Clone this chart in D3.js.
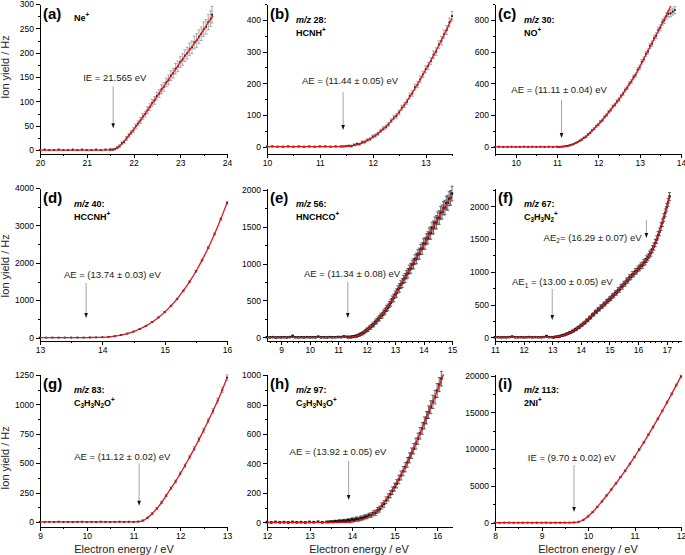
<!DOCTYPE html>
<html>
<head>
<meta charset="utf-8">
<script src="https://cdn.jsdelivr.net/npm/d3@7"></script>
<style>
body { margin: 0; background: #fff; }
svg { font-family: "Liberation Sans", Arial, sans-serif; }
</style>
</head>
<body>
<svg id="chart" width="685" height="555"></svg>
<script>
// measured points: [energy eV, ion yield Hz, error]
var dataA = [[20.0,0,1],[20.1,1,1],[20.2,0,1],[20.3,0,1],[20.4,1,1],[20.5,0,1],[20.6,0,1],[20.7,1,1],[20.8,0,1],[20.9,1,1],[21.0,0,1],[21.1,0,1],[21.2,1,1],[21.3,0,1],[21.4,1,1],[21.5,1,2],[21.55,1,2],
  [21.60,2,2],[21.65,5,2],[21.70,8,3],[21.75,14,3],[21.80,17,3],[21.85,24,4],[21.90,30,4],[21.95,36,4],[22.00,41,5],[22.05,49,5],[22.10,55,5],[22.15,61,6],[22.20,69,6],[22.25,74,6],[22.30,82,7],[22.35,88,7],[22.40,97,7],[22.45,102,8],[22.50,111,8],[22.55,116,8],[22.60,125,9],[22.65,130,9],[22.70,139,9],[22.75,144,10],[22.80,153,10],[22.85,158,10],[22.90,167,11],[22.95,172,11],[23.00,181,11],[23.05,186,12],[23.10,194,12],[23.15,199,12],[23.20,207,13],[23.25,211,13],[23.30,221,13],[23.35,225,14],[23.40,233,14],[23.45,239,14],[23.50,248,15],[23.55,253,15],[23.60,263,16],[23.65,270,16],[23.68,278,17]];
var fitA = [[20,0],[21,0],[21.5,0.5],[21.565,1],[21.6,2],[21.7,8],[21.8,18],[21.9,30],[22.0,42],[22.2,68],[22.4,96],[22.6,124],[22.8,152],[23.0,180],[23.2,206],[23.4,232],[23.6,262],[23.7,276]];

var dataB = [[10.0,0,2],[10.1,1,2],[10.2,0,2],[10.3,0,2],[10.4,1,2],[10.5,0,2],[10.6,1,2],[10.7,0,2],[10.8,1,2],[10.9,0,2],[11.0,1,2],[11.1,1,2],[11.2,0,2],[11.3,1,2],[11.4,1,2],
  [11.45,1,2],[11.50,2,2],[11.55,3,2],[11.60,2,3],[11.65,6,3],[11.70,9,3],[11.75,8,3],[11.80,14,4],[11.85,15,4],[11.90,21,4],[11.95,24,4],[12.00,32,5],[12.05,35,5],[12.10,41,5],[12.15,50,5],[12.20,57,6],[12.25,62,6],[12.30,70,6],[12.35,82,6],[12.40,92,7],[12.45,97,7],[12.50,108,7],[12.55,123,8],[12.60,131,8],[12.65,142,8],[12.70,160,9],[12.75,168,9],[12.80,188,9],[12.85,196,10],[12.90,213,10],[12.95,228,10],[13.00,244,11],[13.05,255,11],[13.10,270,11],[13.15,290,12],[13.20,300,12],[13.25,322,12],[13.30,334,13],[13.35,355,13],[13.40,368,14],[13.45,392,14],[13.50,412,15]];
var fitB = [[10,0],[11,0],[11.44,0.5],[11.5,1],[11.6,3],[11.7,6],[11.8,12],[11.9,20],[12.0,30],[12.1,42],[12.2,56],[12.3,72],[12.4,90],[12.5,110],[12.6,132],[12.7,157],[12.8,184],[12.9,212],[13.0,242],[13.1,272],[13.2,303],[13.3,336],[13.4,370],[13.5,405]];

var dataC = [[9.5,0,2],[9.6,1,2],[9.7,0,2],[9.8,0,2],[9.9,1,2],[10.0,0,2],[10.1,0,2],[10.2,1,2],[10.3,0,2],[10.4,1,2],[10.5,0,2],[10.6,1,2],[10.7,0,2],[10.8,1,2],[10.9,0,2],[11.0,1,2],[11.05,0,2],
  [11.10,1,2],[11.15,2,2],[11.20,4,2],[11.25,6,3],[11.30,9,3],[11.35,13,3],[11.40,18,3],[11.45,25,4],[11.50,30,4],[11.55,39,4],[11.60,46,5],[11.65,57,5],[11.70,64,5],[11.75,78,6],[11.80,88,6],[11.85,104,6],[11.90,114,7],[11.95,130,7],[12.00,140,7],[12.05,158,8],[12.10,168,8],[12.15,188,8],[12.20,200,9],[12.25,220,9],[12.30,233,9],[12.35,254,10],[12.40,265,10],[12.45,286,10],[12.50,298,11],[12.55,321,11],[12.60,335,11],[12.65,359,12],[12.70,372,12],[12.75,398,12],[12.80,412,13],[12.85,439,13],[12.90,452,13],[12.95,484,14],[13.00,501,14],[13.05,535,14],[13.10,551,15],[13.15,585,15],[13.20,600,16],[13.25,636,16],[13.30,650,17],[13.35,686,17],[13.40,700,18],[13.45,736,18],[13.50,750,19],[13.55,786,19],[13.60,798,20],[13.65,825,20],[13.70,838,21],[13.75,842,22],[13.80,852,22],[13.85,862,23]];
var fitC = [[9.5,0],[10.8,0],[11.11,1],[11.3,8],[11.5,30],[11.7,65],[11.9,115],[12.1,170],[12.3,235],[12.5,300],[12.7,375],[12.9,455],[13.1,555],[13.3,655],[13.5,755],[13.7,860],[13.75,888]];

var dataD = [[13.0,2,5],[13.1,1,5],[13.2,2,5],[13.3,1,5],[13.4,2,5],[13.5,2,5],[13.6,3,5],[13.7,2,5],[13.8,4,5],[13.9,5,5],[14.0,10,6],[14.1,20,6],[14.2,40,7],[14.3,68,8],[14.4,108,9],[14.5,162,10],[14.6,230,11],[14.7,315,12],[14.8,418,13],[14.9,540,14],[15.0,683,15],[15.1,850,16],[15.2,1036,18],[15.3,1256,20],[15.4,1495,22],[15.5,1770,24],[15.6,2070,26],[15.7,2405,28],[15.8,2770,30],[15.9,3170,32],[16.0,3600,35]];
var fitD = [[13,0],[13.6,1],[13.74,2],[13.8,3],[13.9,5],[14.0,9],[14.1,19],[14.2,39],[14.3,68],[14.4,108],[14.5,161],[14.6,230],[14.7,314],[14.8,417],[14.9,539],[15.0,682],[15.1,848],[15.2,1037],[15.3,1254],[15.4,1496],[15.5,1768],[15.6,2071],[15.7,2403],[15.8,2770],[15.9,3170],[16.0,3604]];

var dataE = [[8.5,2,8],[8.6,0,8],[8.7,3,8],[8.8,-2,8],[8.9,1,8],[9.0,0,8],[9.1,2,8],[9.2,-1,8],[9.3,3,8],[9.4,18,10],[9.5,1,8],[9.6,0,8],[9.7,2,8],[9.8,-1,8],[9.9,3,8],[10.0,0,8],[10.1,2,8],[10.2,1,8],[10.3,8,9],[10.4,0,8],[10.5,2,8],[10.6,-1,8],[10.7,3,8],[10.8,1,8],[10.9,2,8],[11.0,4,9],[11.1,3,9],[11.2,12,10],[11.3,6,10],
  [11.35,2,10],[11.40,5,10],[11.45,3,12],[11.50,8,12],[11.55,10,14],[11.60,15,14],[11.65,18,16],[11.70,26,16],[11.75,33,18],[11.80,45,18],[11.85,52,20],[11.90,66,20],[11.95,80,22],[12.00,98,25],[12.05,108,28],[12.10,130,25],[12.15,140,30],[12.20,165,28],[12.25,175,32],[12.30,205,30],[12.35,218,35],[12.40,245,32],[12.45,262,38],[12.50,290,35],[12.55,300,40],[12.60,335,38],[12.65,355,42],[12.70,390,40],[12.75,405,45],[12.80,445,42],[12.85,470,48],[12.90,515,45],[12.95,535,50],[13.00,580,48],[13.05,600,55],[13.10,650,50],[13.15,670,58],[13.20,715,52],[13.25,735,60],[13.30,785,55],[13.35,805,62],[13.40,850,58],[13.45,870,65],[13.50,920,60],[13.55,935,68],[13.60,985,62],[13.65,1000,70],[13.70,1055,65],[13.75,1070,72],[13.80,1120,68],[13.85,1135,75],[13.90,1190,70],[13.95,1205,78],[14.00,1265,72],[14.05,1275,80],[14.10,1330,75],[14.15,1350,82],[14.20,1405,78],[14.25,1415,85],[14.30,1480,80],[14.35,1490,88],[14.40,1550,82],[14.45,1560,90],[14.50,1615,85],[14.55,1625,92],[14.60,1685,88],[14.65,1700,95],[14.70,1750,90],[14.75,1760,98],[14.80,1820,92],[14.85,1825,100],[14.90,1880,95],[14.95,1890,100],[15.00,1950,100]];
var fitE = [[8.5,0],[11.0,0],[11.34,2],[11.6,12],[11.8,40],[12.0,95],[12.2,160],[12.4,240],[12.6,335],[12.8,450],[13.0,575],[13.2,710],[13.4,845],[13.6,975],[13.8,1110],[14.0,1250],[14.2,1395],[14.4,1535],[14.6,1670],[14.8,1800],[15.0,1925]];

var dataF = [[11.0,0,8],[11.1,2,8],[11.2,-1,8],[11.3,1,8],[11.4,0,8],[11.5,3,8],[11.6,10,9],[11.7,1,8],[11.8,0,8],[11.9,2,8],[12.0,-1,8],[12.1,1,8],[12.2,3,8],[12.3,0,8],[12.4,2,8],[12.5,1,8],[12.6,0,8],[12.7,3,8],[12.8,18,10],[12.9,2,8],
  [13.00,2,8],[13.05,0,8],[13.10,6,9],[13.15,5,9],[13.20,12,10],[13.25,10,10],[13.30,22,11],[13.35,24,11],[13.40,35,12],[13.45,36,12],[13.50,50,15],[13.55,55,15],[13.60,68,16],[13.65,75,16],[13.70,92,17],[13.75,98,18],[13.80,118,18],[13.85,125,19],[13.90,148,20],[13.95,155,20],[14.00,180,21],[14.05,190,22],[14.10,215,22],[14.15,225,23],[14.20,255,24],[14.25,265,24],[14.30,295,25],[14.35,305,25],[14.40,340,25],[14.45,350,26],[14.50,385,27],[14.55,392,28],[14.60,425,28],[14.65,430,29],[14.70,465,30],[14.75,470,30],[14.80,505,31],[14.85,510,32],[14.90,545,32],[14.95,555,33],[15.00,585,34],[15.05,595,34],[15.10,630,35],[15.15,640,35],[15.20,675,36],[15.25,680,36],[15.30,720,37],[15.35,725,37],[15.40,770,38],[15.45,775,38],[15.50,815,39],[15.55,820,39],[15.60,865,40],[15.65,870,40],[15.70,915,41],[15.75,920,41],[15.80,960,42],[15.85,965,42],[15.90,1005,43],[15.95,1010,43],[16.00,1045,44],[16.05,1060,45],[16.10,1090,46],[16.15,1100,47],[16.20,1140,48],[16.25,1155,49],[16.30,1195,50],[16.35,1220,51],[16.40,1265,52],[16.45,1290,53],[16.50,1345,54],[16.55,1385,55],[16.60,1440,56],[16.65,1490,57],[16.70,1560,58],[16.75,1610,58],[16.80,1690,59],[16.85,1750,59],[16.90,1830,60],[16.95,1900,60],[17.00,1985,60],[17.05,2060,60],[17.10,2150,60]];
var fitF = [[11,0],[12.8,0],[13.0,1],[13.25,12],[13.5,45],[13.75,100],[14.0,175],[14.25,270],[14.5,380],[14.75,480],[15.0,580],[15.25,690],[15.5,810],[15.75,930],[16.0,1040],[16.25,1160],[16.5,1340],[16.75,1620],[17.0,1990],[17.1,2150]];

var dataG = [[9.0,1,3],[9.1,0,3],[9.2,1,3],[9.3,0,3],[9.4,2,3],[9.5,0,3],[9.6,1,3],[9.7,0,3],[9.8,1,3],[9.9,2,3],[10.0,0,3],[10.1,1,3],[10.2,0,3],[10.3,2,3],[10.4,1,3],[10.5,0,3],[10.6,1,3],[10.7,2,3],[10.8,1,3],[10.9,2,3],[11.0,1,3],
  [11.1,3,4],[11.2,12,5],[11.3,36,6],[11.4,71,7],[11.5,114,8],[11.6,166,9],[11.7,224,10],[11.8,287,11],[11.9,344,12],[12.0,412,13],[12.1,478,14],[12.2,552,15],[12.3,623,16],[12.4,702,17],[12.5,778,18],[12.6,862,19],[12.7,943,20],[12.8,1032,21],[12.9,1123,22],[13.0,1228,23]];
var fitG = [[9,0],[10.9,0],[11.0,1],[11.1,3],[11.2,10],[11.3,35],[11.4,70],[11.5,115],[11.6,165],[11.7,225],[11.8,285],[11.9,345],[12.0,410],[12.1,480],[12.2,550],[12.3,625],[12.4,700],[12.5,780],[12.6,860],[12.7,945],[12.8,1030],[12.9,1125],[13.0,1225]];

var dataH = [[12.0,2,5],[12.1,0,5],[12.2,3,5],[12.3,1,5],[12.4,2,5],[12.5,0,5],[12.6,3,5],[12.7,1,5],[12.8,2,5],[12.9,0,5],[13.0,3,5],[13.1,2,5],[13.2,4,5],[13.3,1,5],[13.4,3,5],
  [13.45,3,6],[13.50,5,6],[13.55,4,7],[13.60,8,7],[13.65,6,8],[13.70,10,8],[13.75,8,9],[13.80,12,9],[13.85,10,10],[13.90,15,10],[13.95,14,11],[14.00,20,11],[14.05,18,12],[14.10,25,12],[14.15,22,13],[14.20,30,13],[14.25,30,14],[14.30,38,14],[14.35,40,15],[14.40,48,15],[14.45,50,16],[14.50,62,17],[14.55,66,18],[14.60,82,19],[14.65,90,20],[14.70,112,21],[14.75,125,22],[14.80,150,23],[14.85,170,24],[14.90,192,25],[14.95,215,26],[15.00,240,27],[15.05,262,28],[15.10,292,29],[15.15,318,30],[15.20,348,31],[15.25,375,32],[15.30,408,33],[15.35,438,34],[15.40,470,35],[15.45,500,36],[15.50,535,37],[15.55,568,38],[15.60,605,39],[15.65,638,40],[15.70,675,41],[15.75,710,42],[15.80,748,43],[15.85,782,44],[15.90,818,45],[15.95,850,46],[16.00,895,47],[16.05,935,48],[16.10,975,50]];
var fitH = [[12,0],[13.7,0],[13.92,1],[14.0,3],[14.2,15],[14.4,40],[14.6,85],[14.8,155],[15.0,245],[15.2,350],[15.4,470],[15.6,605],[15.8,750],[16.0,890],[16.15,1005]];

var dataI = [[8.0,5,40],[8.1,-8,40],[8.2,3,40],[8.3,10,40],[8.4,-4,40],[8.5,6,40],[8.6,0,40],[8.7,8,40],[8.8,-5,40],[8.9,4,40],[9.0,2,40],[9.1,9,40],[9.2,-3,40],[9.3,5,40],[9.4,1,40],[9.5,7,40],[9.6,10,40],[9.7,40,45],[9.8,130,50],[9.9,390,55],[10.0,860,60],[10.1,1440,65],[10.2,2160,70],[10.3,2890,75],[10.4,3710,80],[10.5,4510,85],[10.6,5340,90],[10.7,6210,95],[10.8,7080,100],[10.9,8010,105],[11.0,8940,110],[11.1,9950,115],[11.2,10930,120],[11.3,11980,125],[11.4,13020,130],[11.5,14130,135],[11.6,15220,140],[11.7,16380,145],[11.8,17520,150],[11.9,18720,155],[12.0,19900,160]];
var fitI = [[8,0],[9.5,0],[9.6,2],[9.7,20],[9.8,120],[9.9,400],[10.0,850],[10.1,1450],[10.2,2150],[10.3,2900],[10.4,3700],[10.5,4500],[10.6,5350],[10.7,6200],[10.8,7090],[10.9,8000],[11.0,8950],[11.1,9940],[11.2,10940],[11.3,11970],[11.4,13030],[11.5,14120],[11.6,15230],[11.7,16370],[11.8,17530],[11.9,18710],[12.0,19910]];

// tick labels
var ticksXA = [20,21,22,23,24],            ticksYA = [0,50,100,150,200,250,300];
var ticksXB = [10,11,12,13],               ticksYB = [0,100,200,300,400];
var ticksXC = [10,11,12,13,14],            ticksYC = [0,200,400,600,800];
var ticksXD = [13,14,15,16],               ticksYD = [0,1000,2000,3000,4000];
var ticksXE = [9,10,11,12,13,14,15],       ticksYE = [0,500,1000,1500,2000];
var ticksXF = [11,12,13,14,15,16,17],      ticksYF = [0,500,1000,1500,2000];
var ticksXG = [9,10,11,12,13],             ticksYG = [0,250,500,750,1000,1250];
var ticksXH = [12,13,14,15,16],            ticksYH = [0,200,400,600,800,1000];
var ticksXI = [8,9,10,11,12],              ticksYI = [0,5000,10000,15000,20000];

// grid of plot areas (pixels)
var colX = [[40, 227], [267, 452], [495, 681]];
var rowY = [[154, 4], [341, 188], [527, 374]];

var panels = [
  {tag:"(a)", col:0, row:0, data:dataA, fit:fitA, xd:[20,24], yd:[-8,300], xt:ticksXA, yt:ticksYA, xm:0.5, ym:25,
   species:["Ne^+"], notes:[{t:"IE = 21.565 eV", tx:21.6, ty:142, ax:21.565, a0:131, a1:45}]},
  {tag:"(b)", col:1, row:0, data:dataB, fit:fitB, xd:[10,13.5], yd:[-23,450], xt:ticksXB, yt:ticksYB, xm:0.5, ym:50,
   species:["*m/z* 28:", "HCNH^+"], notes:[{t:"AE = (11.44 ± 0.05) eV", tx:11.57, ty:198, ax:11.44, a0:172, a1:53}]},
  {tag:"(c)", col:2, row:0, data:dataC, fit:fitC, xd:[9.5,14], yd:[-45,900], xt:ticksXC, yt:ticksYC, xm:0.5, ym:100,
   species:["*m/z* 30:", "NO^+"], notes:[{t:"AE = (11.11 ± 0.04) eV", tx:11.05, ty:339, ax:11.11, a0:295, a1:56}]},
  {tag:"(d)", col:0, row:1, data:dataD, fit:fitD, xd:[13,16], yd:[-90,4000], xt:ticksXD, yt:ticksYD, xm:0.5, ym:500,
   species:["*m/z* 40:", "HCCNH^+"], notes:[{t:"AE = (13.74 ± 0.03) eV", tx:14.16, ty:1594, ax:13.74, a0:1460, a1:525}]},
  {tag:"(e)", col:1, row:1, data:dataE, fit:fitE, xd:[8.5,15], yd:[-50,2025], xt:ticksXE, yt:ticksYE, xm:0.2, ym:250, dense:true,
   species:["*m/z* 56:", "HNCHCO^+"], notes:[{t:"AE = (11.34 ± 0.08) eV", tx:11.49, ty:818, ax:11.34, a0:750, a1:262}]},
  {tag:"(f)", col:2, row:1, data:dataF, fit:fitF, xd:[11,17.5], yd:[-57,2280], xt:ticksXF, yt:ticksYF, xm:0.2, ym:250, dense:true,
   species:["*m/z* 67:", "C_3H_3N_2^+"], notes:[
     {t:"AE_1 = (13.00 ± 0.05) eV", tx:13.35, ty:798, ax:13.00, a0:737, a1:264},
     {t:"AE_2= (16.29 ± 0.07) eV", tx:16.12, ty:1477, ax:16.29, a0:1791, a1:1516, anchor:"end"}]},
  {tag:"(g)", col:0, row:2, data:dataG, fit:fitG, xd:[9,13], yd:[-43,1258], xt:ticksXG, yt:ticksYG, xm:0.5, ym:125,
   species:["*m/z* 83:", "C_3H_3N_2O^+"], notes:[{t:"AE = (11.12 ± 0.02) eV", tx:10.76, ty:530, ax:11.12, a0:496, a1:137}]},
  {tag:"(h)", col:1, row:2, data:dataH, fit:fitH, xd:[12,16.35], yd:[-31,1007], xt:ticksXH, yt:ticksYH, xm:0.5, ym:100, dense:true,
   species:["*m/z* 97:", "C_3H_3N_3O^+"], notes:[{t:"AE = (13.92 ± 0.05) eV", tx:13.67, ty:457, ax:13.92, a0:417, a1:152}]},
  {tag:"(i)", col:2, row:2, data:dataI, fit:fitI, xd:[8,12], yd:[-585,20230], xt:ticksXI, yt:ticksYI, xm:0.5, ym:2500,
   species:["*m/z* 113:", "2NI^+"], notes:[{t:"IE = (9.70 ± 0.02) eV", tx:9.65, ty:8394, ax:9.70, a0:7850, a1:1456}]}
];

var svg = d3.select("#chart");
var fontFam = '"Liberation Sans", Arial, sans-serif';

// text with *italic*, _sub and ^sup pieces
function richText(sel, str, size) {
  var parts = str.match(/\*[^*]+\*|_.|\^.|[^*_^]+/g);
  var cur = 0;
  parts.forEach(function(p) {
    var t = p, italic = false, target = 0, fs = size;
    if (p[0] === "*") { t = p.slice(1, -1); italic = true; }
    else if (p[0] === "_") { t = p[1]; target = size * 0.3; fs = size * 0.7; }
    else if (p[0] === "^") { t = p[1]; target = -size * 0.42; fs = size * 0.7; }
    var ts = sel.append("tspan").text(t).attr("font-size", fs).attr("dy", target - cur);
    if (italic) ts.attr("font-style", "italic");
    cur = target;
  });
}

function minorTicks(dom, step, major) {
  return d3.range(Math.ceil(dom[0] / step - 1e-9) * step, dom[1] + 1e-9, step)
    .filter(function(v) { return !major.some(function(m) { return Math.abs(m - v) < 1e-6; }); });
}

function styleAxis(s) {
  s.attr("font-family", fontFam).attr("font-size", 8.5);
  s.selectAll("line, path").attr("stroke", "#000").attr("shape-rendering", "crispEdges");
}

panels.forEach(function(p) {
  var xr = colX[p.col], yr = rowY[p.row];
  var x = d3.scaleLinear().domain(p.xd).range(xr);
  var y = d3.scaleLinear().domain(p.yd).range(yr);
  var g = svg.append("g");

  // axes: minor then major
  g.append("g").attr("transform", "translate(0," + yr[0] + ")")
    .call(d3.axisBottom(x).tickValues(minorTicks(p.xd, p.xm, p.xt)).tickSize(2).tickSizeOuter(0).tickFormat(""))
    .call(styleAxis);
  g.append("g").attr("transform", "translate(0," + yr[0] + ")")
    .call(d3.axisBottom(x).tickValues(p.xt).tickSize(4).tickSizeOuter(0).tickPadding(2).tickFormat(d3.format("d")))
    .call(styleAxis);
  g.append("g").attr("transform", "translate(" + xr[0] + ",0)")
    .call(d3.axisLeft(y).tickValues(minorTicks([0, p.yd[1]], p.ym, p.yt)).tickSize(2).tickSizeOuter(0).tickFormat(""))
    .call(styleAxis);
  g.append("g").attr("transform", "translate(" + xr[0] + ",0)")
    .call(d3.axisLeft(y).tickValues(p.yt).tickSize(4).tickSizeOuter(0).tickPadding(2).tickFormat(d3.format("d")))
    .call(styleAxis);

  // error bars + points
  var dot = p.dense ? 2.4 : 1.8;
  g.append("g").selectAll("path").data(p.data).join("path")
    .attr("d", function(d) {
      var xx = x(d[0]), y0 = y(d[1] - d[2]), y1 = y(d[1] + d[2]);
      return "M" + xx + "," + y0 + "V" + y1 + "M" + (xx - 1.5) + "," + y0 + "h3M" + (xx - 1.5) + "," + y1 + "h3";
    })
    .attr("fill", "none").attr("stroke", p.dense ? "#555" : "#8a8a8a").attr("stroke-width", p.dense ? 0.9 : 0.7);
  g.append("g").selectAll("rect").data(p.data).join("rect")
    .attr("x", function(d) { return x(d[0]) - dot / 2; })
    .attr("y", function(d) { return y(d[1]) - dot / 2; })
    .attr("width", dot).attr("height", dot).attr("fill", "#111");

  // fit curve
  var line = d3.line().x(function(d) { return x(d[0]); }).y(function(d) { return y(d[1]); }).curve(d3.curveMonotoneX);
  g.append("path").datum(p.fit).attr("d", line)
    .attr("fill", "none").attr("stroke", "#e3141b").attr("stroke-width", 1.3);

  // panel letter and species
  g.append("text").attr("x", xr[0] + 3).attr("y", yr[1] + 15)
    .attr("font-size", 15).attr("font-weight", "bold").text(p.tag);
  var sx = xr[0] + (p.col === 0 ? 34 : 29);
  p.species.forEach(function(s, i) {
    var base = p.species.length === 1 ? yr[1] + 17 : yr[1] + 19 + i * 12.5;
    var t = g.append("text").attr("x", sx).attr("y", base).attr("font-weight", "bold");
    richText(t, s, 9);
  });

  // annotations with arrows
  p.notes.forEach(function(n) {
    var t = g.append("text").attr("x", x(n.tx)).attr("y", y(n.ty))
      .attr("text-anchor", n.anchor || "middle").attr("fill", "#222");
    richText(t, n.t, 9.5);
    var ax = x(n.ax), ya = y(n.a0), yb = y(n.a1);
    g.append("line").attr("x1", ax).attr("x2", ax).attr("y1", ya).attr("y2", yb - 4)
      .attr("stroke", "#9a9a9a").attr("stroke-width", 0.9);
    g.append("path").attr("d", "M" + (ax - 1.8) + "," + (yb - 5) + "L" + (ax + 1.8) + "," + (yb - 5) + "L" + ax + "," + yb + "Z")
      .attr("fill", "#111");
  });
});

// axis titles
[67, 266, 458].forEach(function(cy) {
  svg.append("text").attr("transform", "translate(9," + cy + ") rotate(-90)")
    .attr("text-anchor", "middle").attr("font-size", 11).attr("fill", "#222").text("Ion yield / Hz");
});
[124, 359, 588].forEach(function(cx) {
  svg.append("text").attr("x", cx).attr("y", 553)
    .attr("text-anchor", "middle").attr("font-size", 11).attr("fill", "#222").text("Electron energy / eV");
});
</script>
</body>
</html>
